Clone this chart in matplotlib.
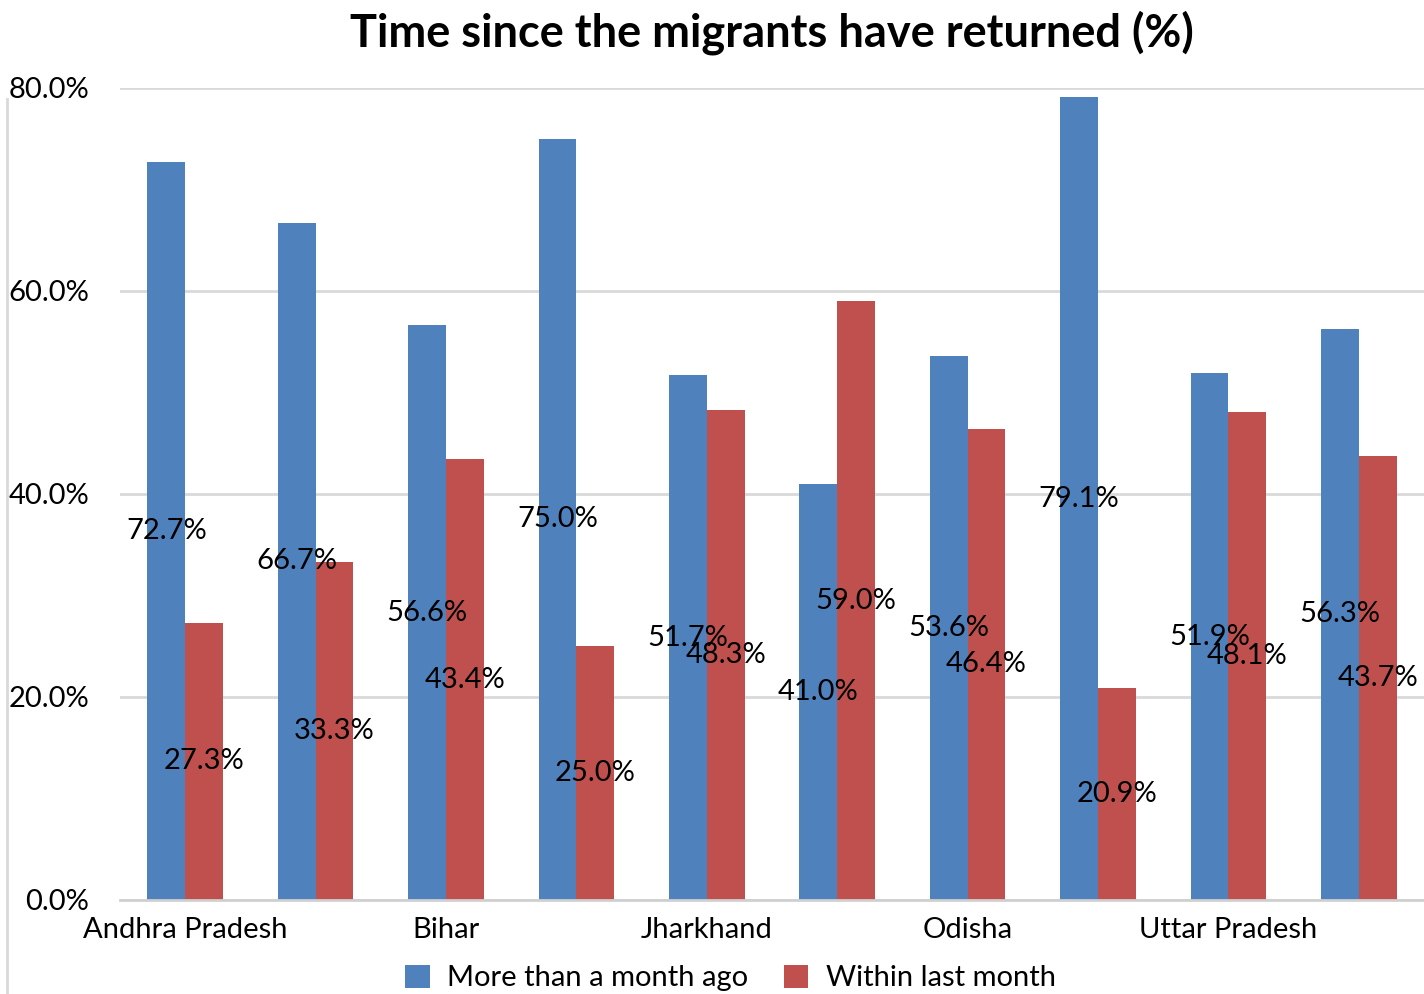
import numpy as np
import matplotlib.pyplot as plt
from matplotlib.lines import Line2D

plt.rcParams["font.family"] = ["Lato", "DejaVu Sans"]

# only every second category label is shown in the chart
tick_labels = ["Andhra Pradesh", "", "Bihar", "", "Jharkhand", "",
               "Odisha", "", "Uttar Pradesh", ""]
more_than_month = [72.7, 66.7, 56.6, 75.0, 51.7, 41.0, 53.6, 79.1, 51.9, 56.3]
within_month = [27.3, 33.3, 43.4, 25.0, 48.3, 59.0, 46.4, 20.9, 48.1, 43.7]
yticks = [0, 20, 40, 60, 80]

blue = "#4F81BD"
red = "#C0504D"
fs = 21

fig = plt.figure(figsize=(14.24, 9.94), dpi=100)
ax = fig.add_axes([0.0843, 0.0946, 0.9157, 0.8169])

x = np.arange(len(tick_labels))
w = 0.29
b1 = ax.bar(x - w/2, more_than_month, w, color=blue, label="More than a month ago", zorder=2)
b2 = ax.bar(x + w/2, within_month, w, color=red, label="Within last month", zorder=2)

for bars, vals in ((b1, more_than_month), (b2, within_month)):
    for r, v in zip(bars, vals):
        ax.text(r.get_x() + r.get_width()/2, v/2, "%.1f%%" % v,
                ha="center", va="center", fontsize=fs, color="black", zorder=3)

ax.set_xlim(-0.5, len(tick_labels) - 0.5)
ax.set_ylim(0, 80)
ax.set_yticks(yticks)
ax.set_yticklabels(["%.1f%%" % t for t in yticks], fontsize=fs)
ax.set_xticks(x)
ax.set_xticklabels(tick_labels, fontsize=fs)
ax.tick_params(axis="x", length=0, pad=12)
ax.tick_params(axis="y", length=0, pad=22)
ax.grid(axis="y", color="#d9d9d9", linewidth=2, zorder=0)
for s in ["top", "right", "left"]:
    ax.spines[s].set_visible(False)
ax.spines["bottom"].set_color("#d0d0d0")
ax.spines["bottom"].set_linewidth(2)
ax.spines["bottom"].set_zorder(3)

fig.suptitle("Time since the migrants have returned (%)", fontsize=32.5,
             fontweight="bold", y=0.99, x=0.542)

fig.legend(loc="center", bbox_to_anchor=(0.513, 0.016), ncol=2, frameon=False,
           fontsize=fs, handlelength=0.85, handleheight=0.85, columnspacing=1.2,
           handletextpad=0.6)

# chart border fragment on the left
fig.add_artist(Line2D([0.005, 0.005], [0.0, 0.9], color="#d9d9d9", linewidth=2))

fig.savefig("out.png", dpi=100)
